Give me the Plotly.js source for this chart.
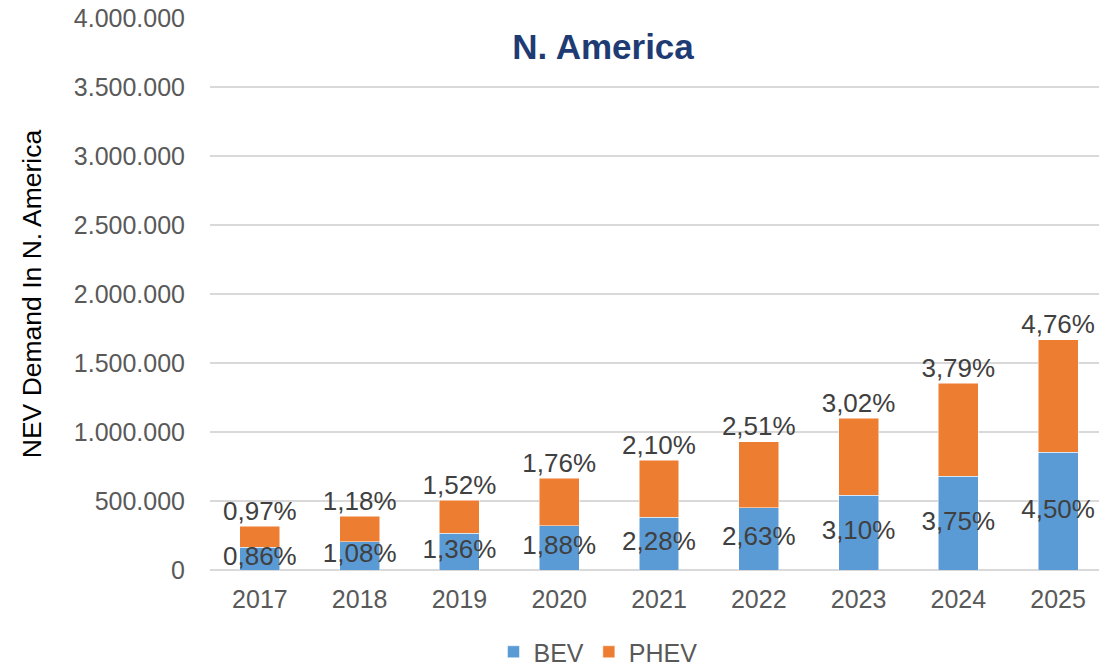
<!DOCTYPE html>
<html><head><meta charset="utf-8">
<script src="https://cdn.plot.ly/plotly-3.0.1.min.js"></script>
<style>html,body{margin:0;padding:0;background:#fff}#c{width:1099px;height:667px}</style>
</head><body><div id="c"></div>
<script>
const years = ['2017','2018','2019','2020','2021','2022','2023','2024','2025'];
const bev  = [164000, 205000, 266000, 321000, 382000, 451000, 541000, 679000, 853000];
const phev = [153000, 186000, 241000, 343000, 413000, 477000, 560000, 676000, 814000];
const bevPct  = ['0,86%','1,08%','1,36%','1,88%','2,28%','2,63%','3,10%','3,75%','4,50%'];
const totPct  = ['0,97%','1,18%','1,52%','1,76%','2,10%','2,51%','3,02%','3,79%','4,76%'];
const yTicks = [0,500000,1000000,1500000,2000000,2500000,3000000,3500000,4000000];

const total = bev.map((b,i)=>b+phev[i]);
const bevMid = bev.map(b=>b/2);
const FONT = 'Liberation Sans, Arial, sans-serif';

const traces = [
  {type:'bar', name:'BEV', x:years, y:bev, marker:{color:'#5B9BD5', line:{color:'#ffffff', width:0.5}}, hoverinfo:'skip'},
  {type:'bar', name:'PHEV', x:years, y:phev, marker:{color:'#ED7D31', line:{color:'#ffffff', width:0.5}}, hoverinfo:'skip'},
  {type:'scatter', mode:'text', x:years, y:bevMid, text:bevPct, textposition:'middle center',
   textfont:{family:FONT, size:26, color:'#404040'}, showlegend:false, hoverinfo:'skip', cliponaxis:false},
  {type:'scatter', mode:'text', x:years, y:total, text:totPct, textposition:'top center',
   textfont:{family:FONT, size:26, color:'#404040'}, showlegend:false, hoverinfo:'skip', cliponaxis:false}
];

const layout = {
  width:1099, height:667,
  margin:{l:210, r:0, t:18, b:97},
  paper_bgcolor:'#ffffff', plot_bgcolor:'#ffffff',
  barmode:'stack', bargap:0.6,
  separators:',.',
  font:{family:FONT, color:'#595959'},
  title:{text:'<b>N. America</b>', font:{family:FONT, size:35, color:'#1F3B73'},
         x:603/1099, xanchor:'center', xref:'container', y:1-47/667, yanchor:'middle', yref:'container'},
  xaxis:{type:'category', range:[-0.5, 8.41], showgrid:false, showline:false, zeroline:false,
         tickfont:{family:FONT, size:25, color:'#595959'}, ticks:'', ticklabelstandoff:12},
  yaxis:{range:[0,4000000], tickvals:yTicks, tickformat:',d', showgrid:true, gridcolor:'#D9D9D9', gridwidth:1.3,
         zeroline:true, zerolinecolor:'#D9D9D9', zerolinewidth:1.3, showline:false,
         tickfont:{family:FONT, size:25, color:'#595959'}, ticks:'', ticklabelstandoff:24,
         title:{text:'NEV Demand In N. America', font:{family:FONT, size:26.5, color:'#000000'}, standoff:24}},
  legend:{orientation:'h', traceorder:'normal', xref:'container', yref:'container', x:598/1099, xanchor:'center', y:1-652/667, yanchor:'middle',
          font:{family:FONT, size:25, color:'#595959'}, itemwidth:30, tracegroupgap:0},
  showlegend:true
};
Plotly.newPlot('c', traces, layout, {displayModeBar:false, staticPlot:true});
</script></body></html>
